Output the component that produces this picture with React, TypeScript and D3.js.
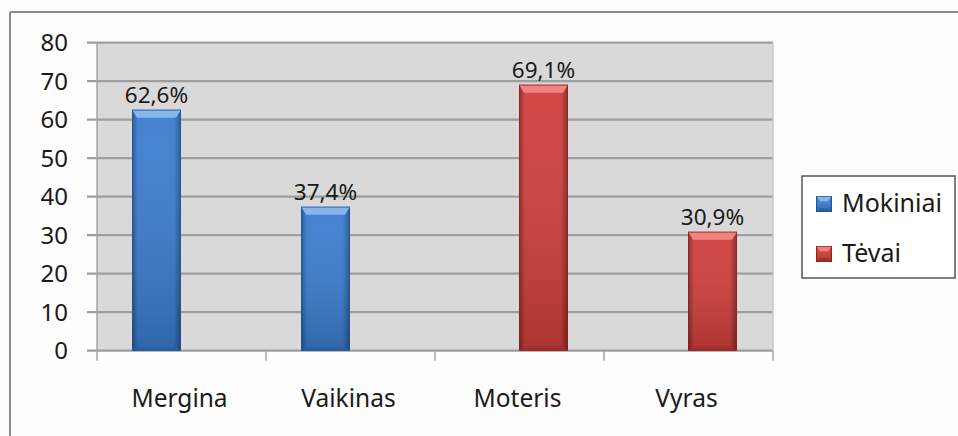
import React from "react";
import * as d3 from "d3";

const categories = ["Mergina", "Vaikinas", "Moteris", "Vyras"];
const seriesNames = ["Mokiniai", "Tėvai"];
const mokiniai: (number | null)[] = [62.6, 37.4, null, null];
const tevai: (number | null)[] = [null, null, 69.1, 30.9];
const yTicks = [0, 10, 20, 30, 40, 50, 60, 70, 80];

const W = 958;
const H = 436;
const plot = { left: 97, right: 773, top: 42.7, bottom: 350.7 };
const FONT = "'Noto Sans', 'Open Sans', sans-serif";

const palettes = [
  { light: "#86b6ec", mid: "#3b7dd0", dark: "#22528f", bottom: "#295f a3".replace(" ", "") },
  { light: "#f08380", mid: "#d03f3c", dark: "#872422", bottom: "#a22d2a" },
];

function Bar({ x, y, w, h, s }: { x: number; y: number; w: number; h: number; s: number }) {
  const p = palettes[s];
  const bev = Math.min(8, h / 3);
  const inset = Math.min(5, w / 4);
  return (
    <g>
      <rect x={x} y={y} width={w} height={h} fill={`url(#gh${s})`} />
      <rect x={x} y={y} width={w} height={h} fill={`url(#gv${s})`} />
      <polygon
        points={`${x},${y} ${x + w},${y} ${x + w - inset},${y + bev} ${x + inset},${y + bev}`}
        fill={p.light}
      />
      <polygon
        points={`${x},${y + h} ${x + w},${y + h} ${x + w - inset},${y + h - Math.min(4, h / 4)} ${x + inset},${y + h - Math.min(4, h / 4)}`}
        fill={p.bottom}
        opacity={0.8}
      />
      <rect x={x + 0.5} y={y + 0.5} width={w - 1} height={h - 1} fill="none" stroke={p.dark} strokeWidth={1} opacity={0.7} />
    </g>
  );
}

export default function App() {
  const x0 = d3.scaleBand<string>().domain(categories).range([plot.left, plot.right]);
  const y = d3.scaleLinear().domain([0, 80]).range([plot.bottom, plot.top]);
  const barW = 49;
  const series = [mokiniai, tevai];

  return (
    <svg
      width={W}
      height={H}
      style={{ position: "absolute", left: 0, top: 0, background: "#ffffff" }}
      fontFamily={FONT}
    >
      <defs>
        {palettes.map((p, i) => (
          <React.Fragment key={i}>
            <linearGradient id={`gh${i}`} x1="0" x2="1" y1="0" y2="0">
              <stop offset="0" stopColor={p.dark} />
              <stop offset="0.12" stopColor={p.mid} />
              <stop offset="0.85" stopColor={p.mid} />
              <stop offset="1" stopColor={p.dark} />
            </linearGradient>
            <linearGradient id={`gv${i}`} x1="0" x2="0" y1="0" y2="1">
              <stop offset="0" stopColor="#ffffff" stopOpacity={0.05} />
              <stop offset="1" stopColor="#000000" stopOpacity={0.18} />
            </linearGradient>
          </React.Fragment>
        ))}
      </defs>
      <rect x={0} y={0} width={W} height={H} fill="#fdfdfd" />
      {/* frame */}
      <line x1={10} y1={12} x2={W} y2={12} stroke="#8a8a8a" strokeWidth={2} />
      <line x1={10} y1={12} x2={10} y2={H} stroke="#8a8a8a" strokeWidth={2} />

      {/* plot area */}
      <rect x={plot.left} y={plot.top} width={plot.right - plot.left} height={plot.bottom - plot.top} fill="#d9d9d9" />
      {yTicks.map((t) => (
        <g key={t}>
          <line x1={plot.left - 10} x2={plot.right} y1={y(t)} y2={y(t)} stroke="#9e9e9e" strokeWidth={2.2} />
          <text x={68} y={y(t) + 8.5} textAnchor="end" fontSize={24} fill="#1a1a1a">
            {t}
          </text>
        </g>
      ))}
      <line x1={plot.left} x2={plot.left} y1={plot.top} y2={plot.bottom + 10} stroke="#a3a3a3" strokeWidth={1.5} />
      <line x1={plot.right} x2={plot.right} y1={plot.top} y2={plot.bottom} stroke="#c8c8c8" strokeWidth={1.5} />
      {categories.map((c) => (
        <line
          key={c}
          x1={(x0(c) as number) + x0.bandwidth()}
          x2={(x0(c) as number) + x0.bandwidth()}
          y1={plot.bottom}
          y2={plot.bottom + 10}
          stroke="#a3a3a3"
          strokeWidth={1.5}
        />
      ))}

      {/* bars */}
      {series.map((vals, s) =>
        vals.map((v, i) => {
          if (v == null) return null;
          const cx = (x0(categories[i]) as number) + x0.bandwidth() / 2;
          const bx = s === 0 ? cx - barW - 0.5 : cx - 0.5;
          const top = y(v);
          return (
            <g key={`${s}-${i}`}>
              <Bar x={bx} y={top} w={barW} h={plot.bottom - top} s={s} />
              <text x={bx + barW / 2} y={top - 7} textAnchor="middle" fontSize={22.5} fill="#1a1a1a">
                {v.toFixed(1).replace(".", ",")}%
              </text>
            </g>
          );
        })
      )}

      {/* category labels */}
      {categories.map((c) => (
        <text key={c} x={(x0(c) as number) + x0.bandwidth() / 2 - 2} y={407} textAnchor="middle" fontSize={24.5} fill="#1a1a1a">
          {c}
        </text>
      ))}

      {/* legend */}
      <rect x={802} y={176} width={153} height={102} fill="#ffffff" stroke="#555" strokeWidth={1.5} />
      {seriesNames.map((n, i) => {
        const ly = 196 + i * 50;
        return (
          <g key={n}>
            <Bar x={816} y={ly} w={16} h={16} s={i} />
            <text x={842} y={ly + 16} fontSize={25} fill="#1a1a1a">
              {n}
            </text>
          </g>
        );
      })}
    </svg>
  );
}
